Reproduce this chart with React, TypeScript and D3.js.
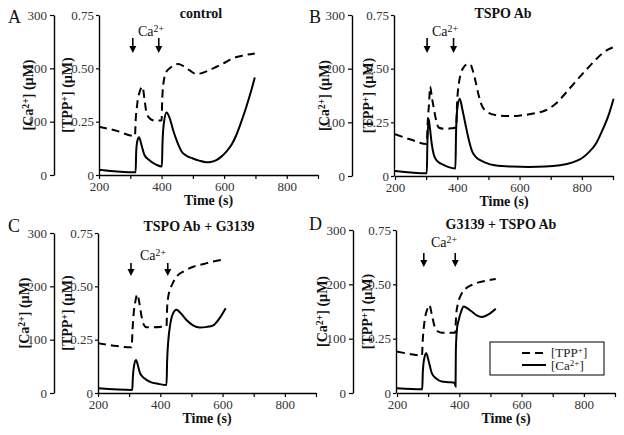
import React, { useEffect, useRef } from 'react';
import * as d3 from 'd3';

type Pt = [number, number];

const timeTicks = [200, 300, 400, 500, 600, 700, 800, 900];
const timeLabelTicks = [200, 400, 600, 800];
const caTicks = [0, 100, 200, 300];
const tppTicks = [0, 0.25, 0.5, 0.75];

const letters = ['A', 'B', 'C', 'D'];
const titles = ['control', 'TSPO Ab', 'TSPO Ab + G3139', 'G3139 + TSPO Ab'];
const caAddTimes: number[][] = [[308, 391], [303, 388], [306, 424], [286, 387]];

const caA: Pt[] = [[200, 10], [317, 5], [319, 45], [323, 65], [328, 71], [335, 58], [345, 38], [360, 28], [384, 19], [401, 16], [403, 60], [408, 100], [416, 117], [425, 108], [437, 84], [450, 62], [464, 44], [480, 36], [500, 31], [520, 27], [543, 24], [560, 25], [575, 28], [590, 34], [607, 44], [625, 58], [639, 75], [655, 100], [671, 128], [685, 155], [698, 183]];
const tppA: Pt[] = [[200, 0.226], [250, 0.21], [315, 0.183], [317, 0.25], [322, 0.33], [330, 0.39], [339, 0.414], [345, 0.36], [352, 0.29], [365, 0.262], [379, 0.255], [400, 0.255], [402, 0.35], [407, 0.44], [416, 0.485], [426, 0.5], [440, 0.515], [453, 0.52], [470, 0.51], [490, 0.49], [512, 0.473], [530, 0.478], [565, 0.5], [600, 0.525], [628, 0.547], [660, 0.56], [698, 0.57]];

const caB: Pt[] = [[200, 9.4], [302, 5], [304, 60], [308, 106], [312, 90], [318, 60], [324, 41], [335, 28], [351, 22], [370, 17], [394, 14], [396, 80], [400, 125], [408, 144], [416, 125], [426, 97], [436, 70], [447, 47], [460, 35], [475, 29], [490, 25], [520, 20], [575, 17.5], [630, 17], [682, 17.5], [730, 20], [768, 25], [800, 33], [822, 44], [845, 60], [865, 84], [885, 112], [902, 144]];
const tppB: Pt[] = [[200, 0.195], [250, 0.17], [302, 0.149], [305, 0.25], [309, 0.33], [313, 0.417], [318, 0.37], [324, 0.32], [332, 0.26], [340, 0.226], [362, 0.219], [380, 0.222], [397, 0.226], [399, 0.33], [405, 0.43], [412, 0.48], [421, 0.508], [432, 0.52], [442, 0.52], [450, 0.49], [458, 0.445], [468, 0.38], [479, 0.328], [495, 0.3], [522, 0.284], [560, 0.279], [597, 0.281], [640, 0.29], [682, 0.305], [715, 0.335], [746, 0.383], [780, 0.44], [811, 0.49], [840, 0.535], [865, 0.57], [885, 0.59], [902, 0.6]];

const caC: Pt[] = [[200, 8.8], [310, 5.6], [312, 30], [316, 52], [322, 62], [328, 52], [335, 37], [350, 27], [367, 21], [395, 17], [420, 15], [422, 60], [426, 100], [431, 125], [440, 148], [452, 156], [465, 150], [484, 137], [505, 127], [527, 123], [550, 124], [570, 127], [590, 140], [610, 159]];
const tppC: Pt[] = [[200, 0.233], [250, 0.222], [308, 0.214], [311, 0.3], [315, 0.38], [319, 0.42], [326, 0.463], [333, 0.42], [340, 0.358], [347, 0.32], [356, 0.308], [380, 0.308], [420, 0.314], [422, 0.4], [426, 0.455], [431, 0.483], [440, 0.515], [452, 0.545], [475, 0.57], [506, 0.592], [540, 0.605], [570, 0.616], [610, 0.628]];

const caD: Pt[] = [[200, 8.6], [281, 6.8], [283, 40], [288, 65], [294, 73], [302, 58], [312, 36], [325, 27], [344, 21], [365, 20], [385, 19], [388, 12], [389, 80], [393, 120], [398, 134], [406, 150], [414, 159], [425, 156], [440, 150], [456, 143], [473, 140], [495, 145], [517, 155]];
const tppD: Pt[] = [[200, 0.19], [240, 0.18], [280, 0.172], [283, 0.25], [289, 0.336], [296, 0.38], [304, 0.405], [312, 0.36], [321, 0.305], [332, 0.283], [344, 0.277], [387, 0.277], [390, 0.36], [396, 0.413], [405, 0.45], [419, 0.478], [440, 0.497], [462, 0.509], [490, 0.518], [517, 0.525]];

const caSeries = [caA, caB, caC, caD];
const tppSeries = [tppA, tppB, tppC, tppD];

const layouts = [
  { caX: 54, tppX: 99, x0: 99, x1: 318, yTop: 15, yBot: 175, caLab: 28, tppLab: 67, letX: 8, letY: 23, titX: 201, titY: 18, annX: 138, annY: 36, arr0: 38, arr1: 53 },
  { caX: 352, tppX: 394, x0: 395, x1: 613, yTop: 15, yBot: 176, caLab: 324, tppLab: 368, letX: 309, letY: 23, titX: 503, titY: 18, annX: 432, annY: 36, arr0: 38, arr1: 53 },
  { caX: 54, tppX: 98, x0: 98, x1: 316, yTop: 233, yBot: 393, caLab: 24, tppLab: 67, letX: 8, letY: 232, titX: 199, titY: 231, annX: 140, annY: 260, arr0: 263, arr1: 276 },
  { caX: 353, tppX: 396, x0: 397, x1: 615, yTop: 230, yBot: 393, caLab: 322, tppLab: 367, letX: 309, letY: 230, titX: 501, titY: 229, annX: 431, annY: 247, arr0: 253, arr1: 267 },
];

const FONT = 'Liberation Serif, Times New Roman, serif';

type Part = { t: string; sup?: boolean };

function rich(sel: any, parts: Part[]) {
  let inSup = false;
  parts.forEach((p) => {
    const ts = sel.append('tspan').text(p.t);
    if (p.sup && !inSup) {
      ts.attr('dy', '-0.45em').style('font-size', '70%');
      inSup = true;
    } else if (p.sup) {
      ts.style('font-size', '70%');
    } else if (!p.sup && inSup) {
      ts.attr('dy', '0.315em');
      inSup = false;
    }
  });
}

function txt(g: any, x: number, y: number, size: number, bold = false) {
  return g.append('text').attr('x', x).attr('y', y)
    .style('font-family', FONT).style('font-size', `${size}px`)
    .style('font-weight', bold ? 'bold' : 'normal').attr('fill', '#111');
}

export default function App() {
  const ref = useRef<SVGSVGElement>(null);

  useEffect(() => {
    const svg = d3.select(ref.current as SVGSVGElement);
    svg.selectAll('*').remove();

    layouts.forEach((L, i) => {
      const g = svg.append('g');
      const x = d3.scaleLinear().domain([200, 900]).range([L.x0, L.x1]);
      const yCa = d3.scaleLinear().domain([0, 300]).range([L.yBot, L.yTop]);
      const yTpp = d3.scaleLinear().domain([0, 0.75]).range([L.yBot, L.yTop]);

      const xAxis = d3.axisBottom(x).tickValues(timeTicks).tickSize(4).tickSizeOuter(0).tickPadding(3)
        .tickFormat((d: any) => (timeLabelTicks.includes(+d) ? String(d) : ''));
      const caAxis = d3.axisLeft(yCa).tickValues(caTicks).tickSize(4).tickSizeOuter(0).tickPadding(3);
      const tppAxis = d3.axisLeft(yTpp).tickValues(tppTicks).tickSize(3).tickSizeOuter(0).tickPadding(2)
        .tickFormat((d: any) => (+d === 0 ? '0' : (+d).toFixed(2)));

      const gx = g.append('g').attr('transform', `translate(0,${L.yBot})`).call(xAxis as any);
      const gca = g.append('g').attr('transform', `translate(${L.caX},0)`).call(caAxis as any);
      const gtp = g.append('g').attr('transform', `translate(${L.tppX},0)`).call(tppAxis as any);
      [gx, gca, gtp].forEach((a) => {
        a.attr('font-family', null).attr('font-size', null);
        a.selectAll('path.domain').attr('stroke', '#000').attr('stroke-width', 1.4);
        a.selectAll('.tick line').attr('stroke', '#000').attr('stroke-width', 1.2);
        a.selectAll('.tick text').attr('fill', '#333')
          .style('font-family', FONT).style('font-size', '13px');
      });

      const lineCa = d3.line<Pt>().x((d) => x(d[0])).y((d) => yCa(d[1])).curve(d3.curveMonotoneX);
      const lineTpp = d3.line<Pt>().x((d) => x(d[0])).y((d) => yTpp(d[1])).curve(d3.curveMonotoneX);
      g.append('path').attr('d', lineTpp(tppSeries[i]) as string).attr('fill', 'none')
        .attr('stroke', '#000').attr('stroke-width', 2).attr('stroke-dasharray', '8,5');
      g.append('path').attr('d', lineCa(caSeries[i]) as string).attr('fill', 'none')
        .attr('stroke', '#000').attr('stroke-width', 2);

      txt(g, L.letX, L.letY, 18).text(letters[i]);
      txt(g, L.titX, L.titY, 14, true).attr('text-anchor', 'middle').text(titles[i]);
      txt(g, (L.x0 + L.x1) / 2, L.yBot + 30, 14, true).attr('text-anchor', 'middle').text('Time (s)');

      const yMid = (L.yTop + L.yBot) / 2;
      const caT = txt(g, 0, 0, 14, true).attr('transform', `translate(${L.caLab + 5},${yMid}) rotate(-90)`)
        .attr('text-anchor', 'middle');
      rich(caT, [{ t: '[Ca' }, { t: '2+', sup: true }, { t: '] (µM)' }]);
      const tpT = txt(g, 0, 0, 14, true).attr('transform', `translate(${L.tppLab + 5},${yMid}) rotate(-90)`)
        .attr('text-anchor', 'middle');
      rich(tpT, [{ t: '[TPP' }, { t: '+', sup: true }, { t: '] (µM)' }]);

      const ann = txt(g, L.annX, L.annY, 14);
      rich(ann, [{ t: 'Ca' }, { t: '2+', sup: true }]);

      caAddTimes[i].forEach((t) => {
        const ax = x(t);
        g.append('line').attr('x1', ax).attr('x2', ax).attr('y1', L.arr0).attr('y2', L.arr1 - 5)
          .attr('stroke', '#000').attr('stroke-width', 1.6);
        g.append('path')
          .attr('d', `M${ax - 3.5},${L.arr1 - 7} L${ax + 3.5},${L.arr1 - 7} L${ax},${L.arr1} Z`)
          .attr('fill', '#000');
      });
    });

    const lg = svg.append('g');
    lg.append('rect').attr('x', 490).attr('y', 342).attr('width', 114).attr('height', 33)
      .attr('fill', '#fff').attr('stroke', '#000').attr('stroke-width', 1);
    lg.append('line').attr('x1', 522).attr('x2', 546).attr('y1', 353).attr('y2', 353)
      .attr('stroke', '#000').attr('stroke-width', 2).attr('stroke-dasharray', '8,5');
    lg.append('line').attr('x1', 522).attr('x2', 546).attr('y1', 365).attr('y2', 365)
      .attr('stroke', '#000').attr('stroke-width', 2);
    const t1 = txt(lg, 551, 357, 13).attr('fill', '#222');
    rich(t1, [{ t: '[TPP' }, { t: '+', sup: true }, { t: ']' }]);
    const t2 = txt(lg, 551, 370, 13).attr('fill', '#222');
    rich(t2, [{ t: '[Ca' }, { t: '2+', sup: true }, { t: ']' }]);
  }, []);

  return (
    <svg
      ref={ref}
      width={624}
      height={435}
      style={{ position: 'absolute', left: 0, top: 0, background: '#fff' }}
    />
  );
}
